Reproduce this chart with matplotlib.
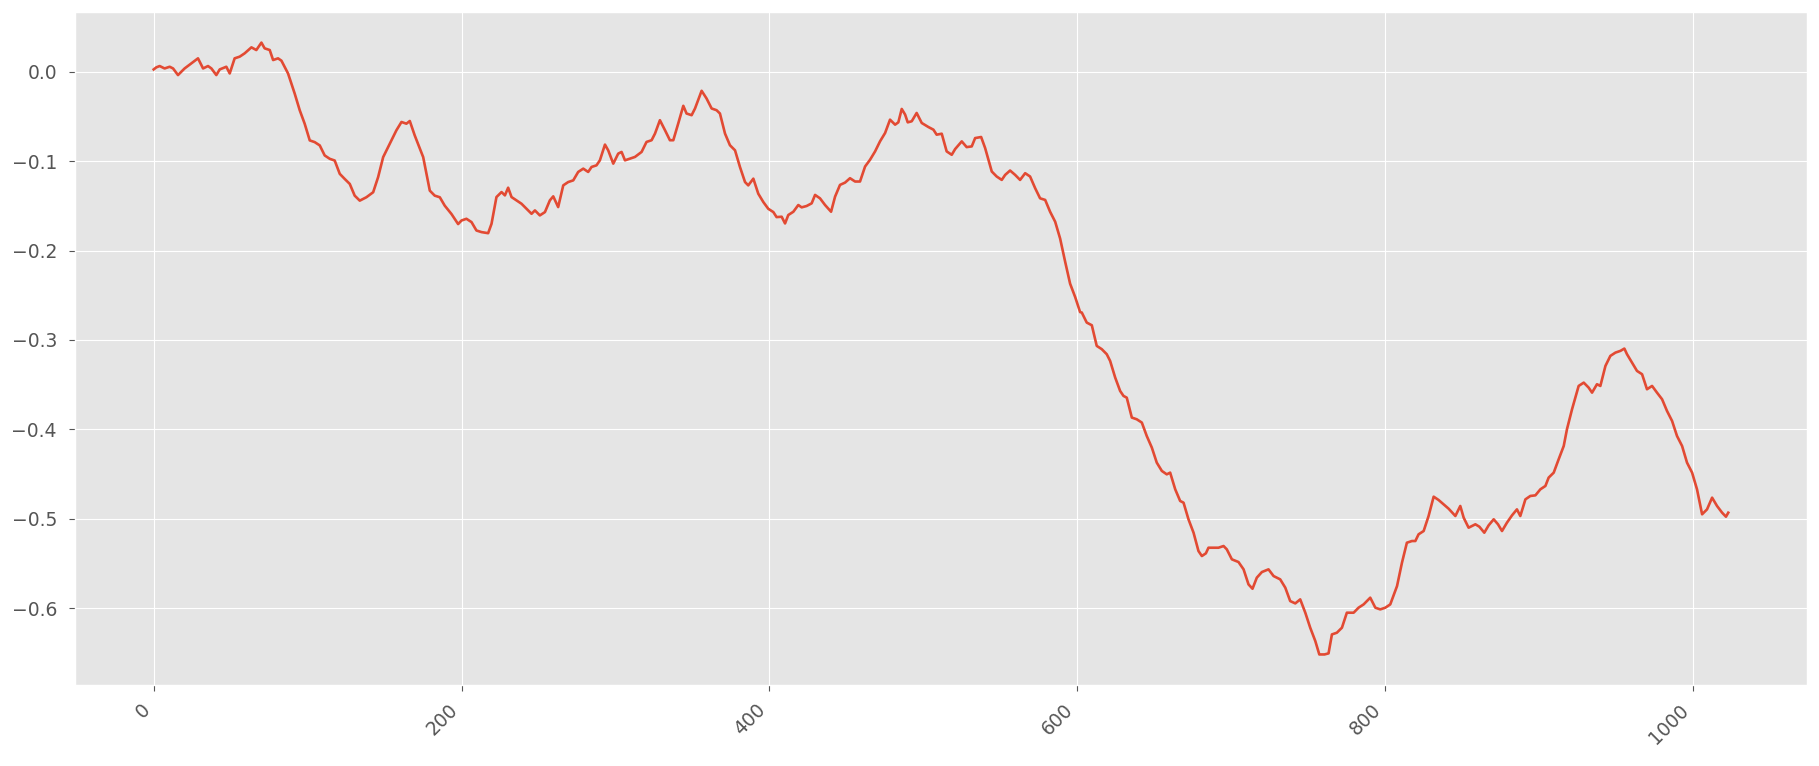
import numpy as np
import matplotlib
matplotlib.use('Agg')
from matplotlib import pyplot as plt

plt.style.use('ggplot')

# traced vertices of the series (index, value)
x_pts = [0, 1.7, 3.9, 7.1, 10.4, 12.6, 15.8, 20.1, 24.5, 28.8, 32.1, 35.3, 37.5, 40.7, 42.9,
         47.2, 49.4, 52.6, 55.9, 59.1, 63.5, 66.7, 70.0, 72.1, 75.4, 77.6, 80.8, 83.0, 87.3,
         91.6, 94.9, 98.1, 101.4, 104.6, 107.9, 111.1, 114.4, 117.6, 120.9, 124.1, 127.4,
         130.6, 133.9, 138.2, 142.6, 145.8, 149.1, 153.4, 157.7, 161.0, 164.2, 166.4, 169.6,
         175.1, 179.4, 182.6, 185.9, 189.1, 193.5, 197.8,
         200.0, 203.2, 206.5, 209.7, 213.0, 217.3, 219.5, 222.7, 226.0, 228.2, 230.3, 232.5,
         235.7, 239.0, 242.2, 245.5, 247.7, 250.9, 254.2, 257.4, 259.6, 262.8, 266.1, 269.3,
         272.6, 275.8, 279.1, 282.3, 284.5, 287.7, 289.9, 293.2, 295.3, 298.6, 301.8, 304.0,
         306.2, 309.4, 312.7, 317.0, 320.2, 323.5, 325.7, 328.9, 332.2, 335.4, 337.6, 340.8,
         344.1, 346.2, 349.5, 351.7, 356.0, 359.2, 362.5, 365.7, 367.9, 371.2, 374.4, 377.7,
         380.9, 384.2, 386.3, 389.6, 392.8, 396.1, 399.3, 402.6, 404.7,
         408.0, 410.2, 412.3, 415.6, 418.8, 421.0, 424.2, 427.5, 429.7, 432.9, 436.2, 440.1,
         442.7, 445.9, 449.2, 452.4, 455.7, 458.9, 462.2, 465.4, 468.7, 471.9, 475.2, 478.4,
         481.7, 483.8, 486.0, 488.2, 489.9, 492.5, 495.7, 499.0, 503.3, 506.6, 508.7, 512.0,
         515.2, 518.5, 520.7, 525.0, 528.2, 531.5, 533.7, 537.6, 540.2, 544.5, 547.7, 551.0,
         553.2, 556.4, 559.7, 562.9, 566.2, 569.4, 572.7, 575.9, 579.2, 582.4, 585.7, 588.9,
         592.2, 595.4, 598.7, 601.9,
         603.0, 606.2, 609.5, 612.7, 616.0, 619.2, 621.4, 624.7, 627.9, 630.1, 632.2, 635.5,
         638.7, 642.0, 645.2, 648.5, 651.7, 655.0, 658.2, 660.4, 663.7, 666.9, 669.1, 672.3,
         675.6, 678.8, 681.0, 683.6, 685.3, 688.6, 691.8, 695.1, 697.2, 700.5, 704.8, 708.1,
         711.3, 713.9, 716.7, 720.0, 724.3, 727.6, 731.9, 735.2, 738.4, 741.7, 744.9, 748.2,
         751.4, 754.7, 757.3, 760.7, 763.3, 765.5, 768.7, 772.0, 775.2, 779.6, 782.8, 786.1,
         790.4, 793.7, 796.9, 800.2, 803.4,
         807.8, 811.0, 814.2, 817.5, 819.7, 821.8, 825.1, 828.3, 831.6, 834.8, 838.1, 841.3,
         845.7, 848.9, 851.1, 854.3, 858.7, 861.3, 864.5, 867.3, 870.6, 873.4, 876.0, 879.2,
         882.5, 885.7, 887.9, 891.2, 894.4, 897.7, 900.9, 904.2, 906.3, 909.6, 912.8, 916.1,
         918.2, 921.5, 925.8, 929.1, 932.3, 934.5, 937.7, 939.9, 943.2, 946.4, 949.7, 952.9,
         955.5, 957.2, 960.5, 963.7, 967.0, 970.2, 973.5, 976.7, 980.0, 983.2, 986.5, 989.7,
         993.0, 996.2, 999.5, 1002.7, 1006.0, 1009.2, 1012.5, 1015.7, 1019.0, 1021.5, 1023]

y_pts = [0.0026, 0.0049, 0.0064, 0.0037, 0.0056, 0.0037, -0.0037, 0.0037, 0.0094, 0.0150,
         0.0037, 0.0064, 0.0037, -0.0037, 0.0026, 0.0056, -0.0019, 0.0150, 0.0169, 0.0206,
         0.0273, 0.0243, 0.0326, 0.0262, 0.0243, 0.0131, 0.0150, 0.0124, -0.0019, -0.0243,
         -0.0431, -0.0581, -0.0768, -0.0787, -0.0824, -0.0936, -0.0974, -0.0993, -0.1142,
         -0.1199, -0.1255, -0.1386, -0.1442, -0.1404, -0.1348, -0.1180, -0.0955, -0.0805,
         -0.0655, -0.0562, -0.0581, -0.0551, -0.0712, -0.0955, -0.1330, -0.1386, -0.1404,
         -0.1498, -0.1592, -0.1704,
         -0.1664, -0.1645, -0.1682, -0.1776, -0.1794, -0.1806, -0.1701, -0.1402, -0.1346,
         -0.1383, -0.1297, -0.1402, -0.1439, -0.1477, -0.1533, -0.1589, -0.1551, -0.1607,
         -0.1570, -0.1439, -0.1394, -0.1514, -0.1271, -0.1234, -0.1215, -0.1121, -0.1084,
         -0.1121, -0.1065, -0.1047, -0.0991, -0.0815, -0.0879, -0.1028, -0.0916, -0.0897,
         -0.0991, -0.0972, -0.0953, -0.0897, -0.0785, -0.0766, -0.0692, -0.0542, -0.0654,
         -0.0766, -0.0766, -0.0579, -0.0381, -0.0467, -0.0486, -0.0411, -0.0213, -0.0299,
         -0.0411, -0.0430, -0.0467, -0.0692, -0.0822, -0.0879, -0.1065, -0.1234, -0.1271,
         -0.1196, -0.1364, -0.1458, -0.1533, -0.1570, -0.1626,
         -0.1622, -0.1697, -0.1603, -0.1566, -0.1491, -0.1517, -0.1502, -0.1472, -0.1378,
         -0.1416, -0.1491, -0.1566, -0.1397, -0.1266, -0.1240, -0.1191, -0.1228, -0.1228,
         -0.1060, -0.0985, -0.0891, -0.0779, -0.0685, -0.0536, -0.0592, -0.0566, -0.0416,
         -0.0479, -0.0566, -0.0554, -0.0461, -0.0573, -0.0618, -0.0648, -0.0704, -0.0693,
         -0.0891, -0.0929, -0.0865, -0.0779, -0.0843, -0.0835, -0.0742, -0.0730, -0.0854,
         -0.1116, -0.1172, -0.1210, -0.1154, -0.1105, -0.1154, -0.1210, -0.1135, -0.1172,
         -0.1303, -0.1416, -0.1434, -0.1566, -0.1678, -0.1865, -0.2127, -0.2371, -0.2521,
         -0.2689,
         -0.2694, -0.2806, -0.2836, -0.3067, -0.3104, -0.3160, -0.3235, -0.3422, -0.3571,
         -0.3627, -0.3646, -0.3869, -0.3888, -0.3925, -0.4075, -0.4205, -0.4373, -0.4466,
         -0.4504, -0.4485, -0.4672, -0.4802, -0.4821, -0.5007, -0.5157, -0.5362, -0.5418,
         -0.5388, -0.5325, -0.5325, -0.5325, -0.5306, -0.5343, -0.5455, -0.5485, -0.5567,
         -0.5735, -0.5784, -0.5660, -0.5597, -0.5567, -0.5642, -0.5679, -0.5772, -0.5922,
         -0.5948, -0.5903, -0.6052, -0.6220, -0.6369, -0.6519, -0.6519, -0.6507, -0.6295,
         -0.6276, -0.6220, -0.6052, -0.6052, -0.5996, -0.5959, -0.5884, -0.5996, -0.6015,
         -0.5996, -0.5959,
         -0.5754, -0.5493, -0.5269, -0.5250, -0.5250, -0.5175, -0.5138, -0.4970, -0.4754,
         -0.4791, -0.4840, -0.4888, -0.4970, -0.4858, -0.4989, -0.5101, -0.5063, -0.5090,
         -0.5157, -0.5075, -0.5007, -0.5063, -0.5138, -0.5045, -0.4963, -0.4896, -0.4970,
         -0.4784, -0.4746, -0.4739, -0.4672, -0.4634, -0.4541, -0.4485, -0.4336, -0.4187,
         -0.4000, -0.3776, -0.3515, -0.3478, -0.3534, -0.3590, -0.3496, -0.3515, -0.3291,
         -0.3179, -0.3142, -0.3123, -0.3097, -0.3160, -0.3254, -0.3347, -0.3384, -0.3552,
         -0.3515, -0.3590, -0.3664, -0.3795, -0.3907, -0.4075, -0.4187, -0.4373, -0.4485,
         -0.4672, -0.4951, -0.4896, -0.4765, -0.4858, -0.4933, -0.4978, -0.4933]

x_ticks = [0, 200, 400, 600, 800, 1000]

fig = plt.figure(figsize=(18.19, 7.66), dpi=100)
ax = fig.add_axes([0.0412, 0.1057, 0.9522, 0.8786])

ax.plot(x_pts, y_pts, color='#E24A33', linewidth=1.9)

ax.set_xticks(x_ticks)
ax.tick_params(axis='both', labelsize=13.5, colors='#555555', length=4)
ax.tick_params(axis='y', pad=9)
ax.tick_params(axis='x', pad=7)
plt.setp(ax.get_xticklabels(), rotation=45, ha='right')

fig.savefig('out.png', dpi=100)
